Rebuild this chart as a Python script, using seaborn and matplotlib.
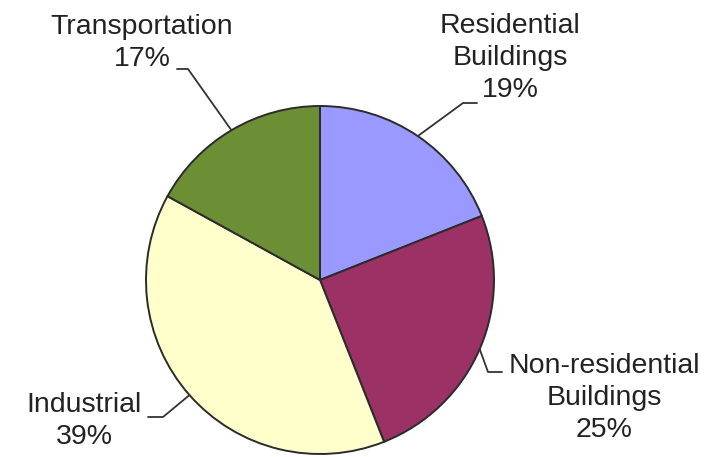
import numpy as np
import seaborn as sns
import matplotlib.pyplot as plt

# data (clockwise from 12 o'clock)
sectors = ["Residential\nBuildings", "Non-residential\nBuildings", "Industrial", "Transportation"]
shares = [19, 25, 39, 17]
colors = ["#9999FF", "#9B3164", "#FFFFCC", "#6C8E34"]

# label layout in pixels (x, y measured from top)
label_pos = [(510, 58), (604, 398), (84, 421), (142, 43)]
elbows = [[(477, 103), (463, 103)], [(502, 372), (488, 372)],
          [(148, 417), (163, 417)], [(177, 69), (188, 69)]]

W, H = 717, 457
cx, cy, R = 320, 280, 174

sns.set_theme(style="white")
plt.rcParams['font.family'] = ['Liberation Sans', 'DejaVu Sans']

fig = plt.figure(figsize=(W / 100, H / 100), dpi=100)
ax = fig.add_axes([0, 0, 1, 1])

wedges, _ = ax.pie(shares, colors=colors, startangle=90, counterclock=False,
                   center=(cx, H - cy), radius=R,
                   wedgeprops=dict(edgecolor="#2b2b2b", linewidth=1.4))

for w, name, share, (lx, ly), pts in zip(wedges, sectors, shares, label_pos, elbows):
    mid = np.deg2rad((w.theta1 + w.theta2) / 2)
    ex, ey = cx + R * np.cos(mid), (H - cy) + R * np.sin(mid)
    xs = [p[0] for p in pts] + [ex]
    ys = [H - p[1] for p in pts] + [ey]
    ax.plot(xs, ys, color="#333333", lw=1.3)
    ax.text(lx, H - ly, f"{name}\n{share}%", ha="center", va="center",
            multialignment="center", fontsize=20.5, color="#222222",
            linespacing=1.3)

ax.set_xlim(0, W)
ax.set_ylim(0, H)
ax.axis("off")

fig.savefig("out.png", dpi=100)
